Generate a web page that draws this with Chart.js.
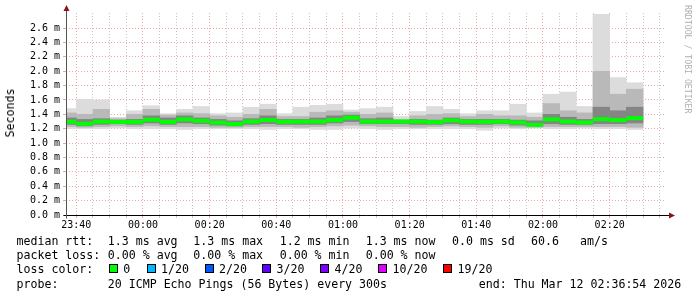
<!DOCTYPE html>
<html lang="en">
<head>
<meta charset="UTF-8">
<title>SmokePing - median rtt</title>
<script src="https://cdn.jsdelivr.net/npm/chart.js"></script>
<style>
  body { margin: 0; background: #fff; }
  #wrap { position: relative; width: 697px; height: 297px; overflow: hidden; font-family: 'DejaVu Sans Mono', monospace; color: #000; }
  #chart { position: absolute; left: 0; top: 0; }
  .t { position: absolute; font-size: 11.6px; line-height: 14px; white-space: pre; }
  .sq { position: absolute; width: 7px; height: 7px; border: 1px solid #000; }
  #ytitle { position: absolute; left: 10px; top: 113px; font-size: 11.6px; line-height: 14px; white-space: pre;
            transform: translate(-50%, -50%) rotate(-90deg); }
  #credit { position: absolute; left: 683px; top: 5px; font-size: 8.2px; line-height: 10px; color: #b0b0b0;
            writing-mode: vertical-rl; white-space: pre; }
</style>
</head>
<body>
<div id="wrap">
  <canvas id="chart" width="697" height="297"></canvas>
  <div id="ytitle">Seconds</div>
  <div id="credit">RRDTOOL / TOBI OETIKER</div>
  <div id="legend"></div>
</div>

<script>
// time window of the graph
const startTime = '23:36:54';
const endTime = '02:36:54';

// end time of each 5 minute step
const slotEnd = ['23:40','23:45','23:50','23:55','00:00','00:05','00:10','00:15','00:20','00:25',
                 '00:30','00:35','00:40','00:45','00:50','00:55','01:00','01:05','01:10','01:15',
                 '01:20','01:25','01:30','01:35','01:40','01:45','01:50','01:55','02:00','02:05',
                 '02:10','02:15','02:20','02:25','02:30'];

// rtt in ms: median and the smoke bands (min..max, inner quantiles)
const median = [1.297,1.27,1.30,1.295,1.295,1.325,1.295,1.33,1.31,1.285,1.265,1.30,1.32,1.297,1.30,1.30,1.32,1.353,1.30,1.30,
                1.30,1.30,1.292,1.315,1.30,1.297,1.30,1.287,1.255,1.33,1.30,1.287,1.333,1.32,1.347];
const rttMax = [1.48,1.61,1.60,1.36,1.45,1.52,1.41,1.47,1.51,1.41,1.42,1.50,1.54,1.41,1.50,1.525,1.54,1.46,1.48,1.50,
                1.37,1.44,1.51,1.47,1.41,1.45,1.45,1.54,1.42,1.68,1.71,1.51,2.79,1.91,1.84];
const rttHi2 = [1.42,1.40,1.47,1.34,1.40,1.47,1.39,1.42,1.41,1.38,1.36,1.40,1.47,1.37,1.37,1.43,1.45,1.43,1.40,1.42,
                1.33,1.38,1.40,1.41,1.37,1.40,1.38,1.38,1.36,1.55,1.45,1.42,2.00,1.68,1.75];
const rttHi3 = [1.35,1.33,1.34,1.32,1.33,1.38,1.35,1.38,1.35,1.33,1.31,1.34,1.38,1.33,1.33,1.35,1.38,1.39,1.34,1.35,
                1.31,1.33,1.32,1.35,1.33,1.33,1.33,1.32,1.31,1.40,1.36,1.33,1.50,1.45,1.50];
const rttLo3 = [1.26,1.24,1.26,1.27,1.26,1.28,1.26,1.28,1.27,1.25,1.24,1.26,1.27,1.26,1.26,1.26,1.28,1.30,1.27,1.27,
                1.27,1.26,1.26,1.27,1.26,1.26,1.27,1.25,1.24,1.27,1.26,1.26,1.27,1.27,1.28];
const rttLo2 = [1.23,1.22,1.23,1.24,1.23,1.24,1.23,1.23,1.23,1.22,1.22,1.23,1.23,1.23,1.22,1.23,1.24,1.25,1.24,1.23,
                1.23,1.22,1.23,1.24,1.23,1.22,1.24,1.22,1.22,1.23,1.23,1.23,1.23,1.23,1.22];
const rttMin = [1.20,1.20,1.20,1.21,1.20,1.20,1.20,1.19,1.20,1.20,1.20,1.20,1.19,1.20,1.20,1.19,1.19,1.21,1.20,1.19,
                1.20,1.20,1.20,1.20,1.20,1.18,1.21,1.20,1.21,1.20,1.20,1.21,1.20,1.20,1.19];

// axis ticks
const xTicks = ['23:40','23:45','23:50','23:55','00:00','00:05','00:10','00:15','00:20','00:25','00:30','00:35',
                '00:40','00:45','00:50','00:55','01:00','01:05','01:10','01:15','01:20','01:25','01:30','01:35',
                '01:40','01:45','01:50','01:55','02:00','02:05','02:10','02:15','02:20','02:25','02:30','02:35'];
const xLabels = ['23:40','00:00','00:20','00:40','01:00','01:20','01:40','02:00','02:20'];
const yTicks = [0,0.1,0.2,0.3,0.4,0.5,0.6,0.7,0.8,0.9,1.0,1.1,1.2,1.3,1.4,1.5,1.6,1.7,1.8,1.9,2.0,2.1,2.2,2.3,2.4,2.5,2.6,2.7];
const yLabels = [0,0.2,0.4,0.6,0.8,1.0,1.2,1.4,1.6,1.8,2.0,2.2,2.4,2.6];
const yMax = 2.81;

// legend texts
const rttStats = ['median rtt:','1.3 ms avg','1.3 ms max','1.2 ms min','1.3 ms now','0.0 ms sd','60.6','am/s'];
const lossStats = ['packet loss:','0.00 % avg','0.00 % max','0.00 % min','0.00 % now'];
const lossLabels = ['0','1/20','2/20','3/20','4/20','10/20','19/20'];
const lossColors = ['#00ff00','#00b8ff','#0059ff','#5e00ff','#7e00ff','#dd00ff','#ff0000'];
const probeText = ['probe:','20 ICMP Echo Pings (56 Bytes) every 300s','end: Thu Mar 12 02:36:54 2026'];

// minutes relative to midnight (times after 12:00 are taken as the evening before)
function toMin(s) {
  const p = s.split(':').map(Number);
  let m = p[0] * 60 + p[1] + (p[2] || 0) / 60;
  if (p[0] >= 12) m -= 1440;
  return m;
}

const STEP = 5;
const ends = slotEnd.map(toMin);
const band = (lo, hi) => ends.map((e, i) => ({ x: e - STEP / 2, y: [lo[i], hi[i]] }));
const medPts = [];
ends.forEach((e, i) => { medPts.push({ x: e - STEP, y: median[i] }, { x: e, y: median[i] }); });

const majorX = xLabels.map(toMin);
const isMajorX = v => majorX.some(m => Math.abs(m - v) < 0.01);
const isMajorY = v => yLabels.some(m => Math.abs(m - v) < 0.001);
const minorGrid = 'rgba(150,150,150,0.55)';
const majorGrid = 'rgba(225,120,120,0.65)';
const gridX = c => (c.tick && isMajorX(c.tick.value)) ? majorGrid : minorGrid;
const gridY = c => (c.tick && isMajorY(c.tick.value)) ? majorGrid : minorGrid;

const axisArrows = {
  id: 'axisArrows',
  afterDatasetsDraw(chart) {
    const { ctx, chartArea: a } = chart;
    const x0 = Math.round(a.left) + 0.5, y0 = Math.round(a.bottom) + 0.5;
    ctx.save();
    ctx.lineWidth = 1;
    ctx.strokeStyle = '#000';
    ctx.beginPath();
    ctx.moveTo(x0 - 3, y0); ctx.lineTo(a.right + 4, y0);
    ctx.stroke();
    ctx.strokeStyle = '#555';
    ctx.beginPath();
    ctx.moveTo(x0, y0 + 3); ctx.lineTo(x0, a.top - 4);
    ctx.stroke();
    ctx.fillStyle = '#8b1515';
    ctx.beginPath();
    ctx.moveTo(x0, a.top - 8); ctx.lineTo(x0 - 3, a.top - 2); ctx.lineTo(x0 + 3, a.top - 2);
    ctx.closePath(); ctx.fill();
    ctx.beginPath();
    ctx.moveTo(a.right + 9, y0); ctx.lineTo(a.right + 3, y0 - 3); ctx.lineTo(a.right + 3, y0 + 3);
    ctx.closePath(); ctx.fill();
    ctx.restore();
  }
};

new Chart(document.getElementById('chart'), {
  type: 'bar',
  data: {
    datasets: [
      { type: 'line', data: medPts, order: 0, borderColor: '#00ff00', borderWidth: 4, borderCapStyle: 'butt',
        pointRadius: 0, tension: 0,
        segment: { borderColor: c => Math.abs(c.p0.parsed.x - c.p1.parsed.x) < 0.01 ? 'rgba(0,0,0,0)' : '#00ff00' } },
      { data: band(rttLo3, rttHi3), order: 1, backgroundColor: '#858585' },
      { data: band(rttLo2, rttHi2), order: 2, backgroundColor: '#b9b9b9' },
      { data: band(rttMin, rttMax), order: 3, backgroundColor: '#dcdcdc' }
    ]
  },
  options: {
    responsive: false,
    animation: false,
    devicePixelRatio: 1,
    layout: { padding: { left: 0, top: 13, right: 31, bottom: 62 } },
    datasets: { bar: { grouped: false, borderWidth: 0, barPercentage: 1, categoryPercentage: 1 } },
    plugins: { legend: { display: false }, tooltip: { enabled: false } },
    scales: {
      x: {
        type: 'linear',
        offset: false,
        min: toMin(startTime),
        max: toMin(endTime),
        afterFit: s => { s.height = 20; },
        afterBuildTicks: s => { s.ticks = xTicks.map(t => ({ value: toMin(t) })); },
        ticks: {
          autoSkip: false, maxRotation: 0, padding: 1, color: '#000',
          font: { family: 'DejaVu Sans Mono', size: 10 },
          callback: v => {
            const i = majorX.findIndex(m => Math.abs(m - v) < 0.01);
            return i >= 0 ? xLabels[i] : '';
          }
        },
        grid: { offset: false, tickLength: 3, color: gridX, tickColor: gridX },
        border: { display: false, dash: [1, 2] }
      },
      y: {
        min: 0,
        max: yMax,
        afterFit: s => { s.width = 66; },
        afterBuildTicks: s => { s.ticks = yTicks.map(v => ({ value: v })); },
        ticks: {
          padding: 3, color: '#000',
          font: { family: 'DejaVu Sans Mono', size: 10 },
          callback: v => isMajorY(v) ? v.toFixed(1) + ' m' : ''
        },
        grid: { tickLength: 3, color: gridY, tickColor: gridY },
        border: { display: false, dash: [1, 2] }
      }
    }
  },
  plugins: [axisArrows]
});

// legend rows under the graph
const legend = document.getElementById('legend');
function put(text, x, y) {
  const d = document.createElement('div');
  d.className = 't';
  d.textContent = text;
  d.style.left = x + 'px';
  d.style.top = y + 'px';
  legend.appendChild(d);
}
const rttX = [16.5, 107.8, 193.3, 279.7, 365.7, 452, 531, 580];
rttStats.forEach((s, i) => put(s, rttX[i], 234));
lossStats.forEach((s, i) => put(s, rttX[i], 248));
put('loss color:', 16.5, 262);
const sqX = [108.7, 146.5, 204.5, 262, 320, 378, 443];
lossLabels.forEach((s, i) => {
  const q = document.createElement('div');
  q.className = 'sq';
  q.style.left = sqX[i] + 'px';
  q.style.top = '264px';
  q.style.background = lossColors[i];
  legend.appendChild(q);
  put(s, sqX[i] + 14.5, 262);
});
const probeX = [16.5, 107.8, 478.8];
probeText.forEach((s, i) => put(s, probeX[i], 276.5));
</script>
</body>
</html>
